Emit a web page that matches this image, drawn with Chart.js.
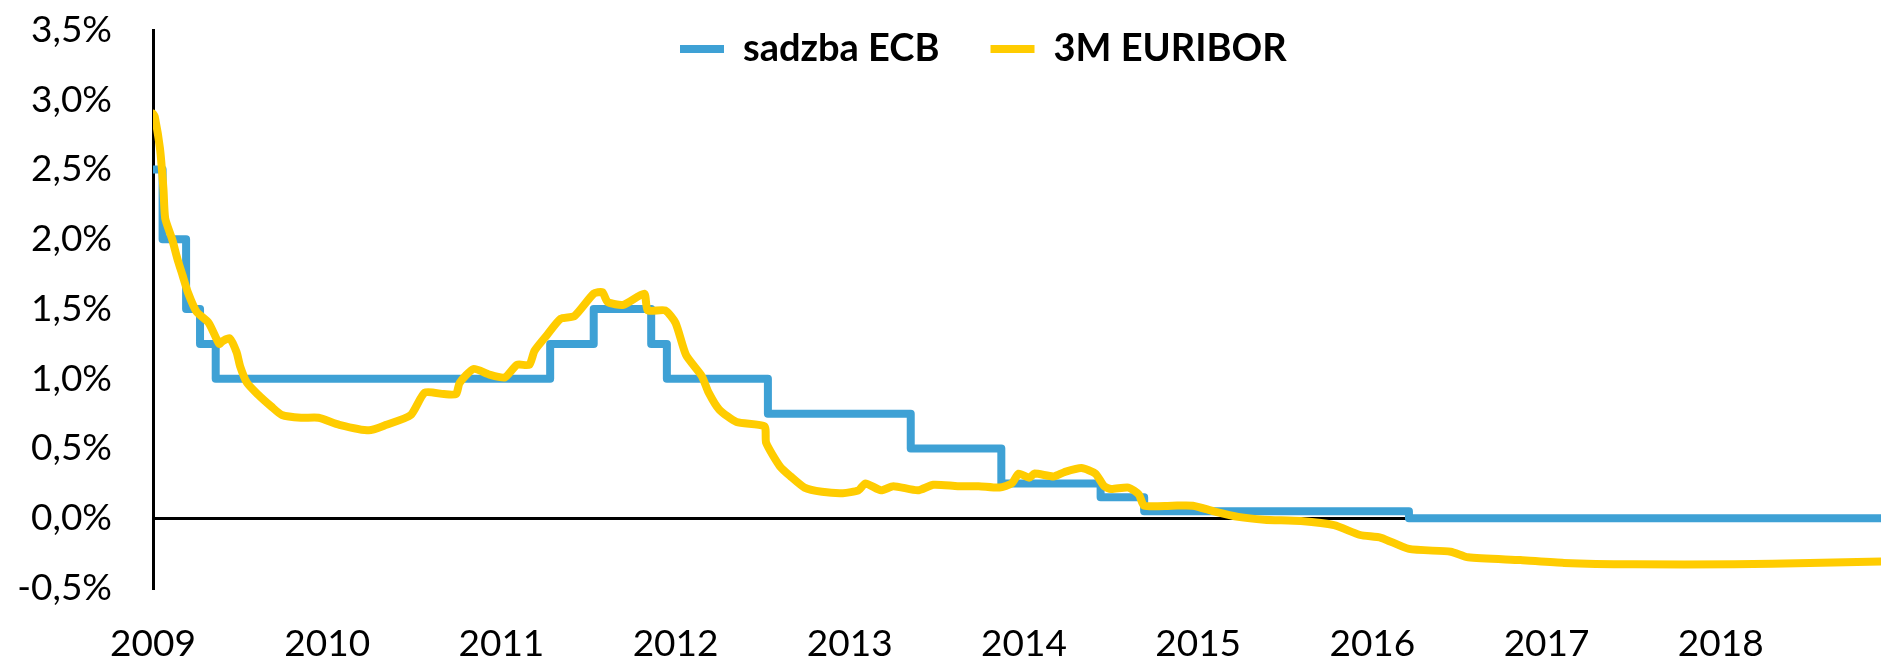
<!DOCTYPE html>
<html>
<head>
<meta charset="utf-8">
<title>sadzba ECB a 3M EURIBOR</title>
<script src="https://cdn.jsdelivr.net/npm/chart.js@4.4.1/dist/chart.umd.min.js"></script>
<style>
   html, body { margin: 0; padding: 0; background: #fff; }
   #wrap { position: relative; width: 1881px; height: 658px; }
</style>
</head>
<body>
<div id="wrap"><canvas id="chart-area"></canvas></div>
<script>
'use strict';

//DATA (dates as decimal years, values in %)
var seriesNames = ['sadzba ECB', '3M EURIBOR'];

var ecbDates = [2009.0, 2009.055, 2009.19, 2009.27, 2009.36, 2011.28, 2011.53, 2011.86, 2011.95,
   2012.53, 2013.35, 2013.87, 2014.44, 2014.69, 2016.21, 2018.92];
var ecbRates = [2.5, 2.0, 1.5, 1.25, 1.0, 1.25, 1.5, 1.25, 1.0,
   0.75, 0.5, 0.25, 0.15, 0.05, 0.0, 0.0];

var euriborDates = [2009.00, 2009.01, 2009.04, 2009.06, 2009.07, 2009.11, 2009.14, 2009.17, 2009.20,
   2009.25, 2009.32, 2009.38, 2009.40, 2009.44, 2009.48, 2009.50, 2009.54, 2009.60, 2009.68,
   2009.74, 2009.85, 2009.95, 2010.07, 2010.24, 2010.34, 2010.48, 2010.56, 2010.67, 2010.74,
   2010.76, 2010.84, 2010.93, 2011.02, 2011.09, 2011.16, 2011.19, 2011.26, 2011.34, 2011.42,
   2011.53, 2011.58, 2011.61, 2011.70, 2011.82, 2011.84, 2011.94, 2012.00, 2012.06, 2012.15,
   2012.19, 2012.25, 2012.35, 2012.51, 2012.52, 2012.60, 2012.66, 2012.74, 2012.84, 2012.96,
   2013.05, 2013.09, 2013.18, 2013.25, 2013.39, 2013.48, 2013.62, 2013.74, 2013.86, 2013.93,
   2013.97, 2014.03, 2014.06, 2014.17, 2014.23, 2014.33, 2014.41, 2014.46, 2014.50, 2014.60,
   2014.66, 2014.69, 2014.85, 2014.97, 2015.09, 2015.23, 2015.38, 2015.59, 2015.78, 2015.93,
   2016.05, 2016.21, 2016.45, 2016.55, 2016.85, 2017.10, 2017.50, 2018.08, 2018.51, 2018.92];
var euriborRates = [2.90, 2.88, 2.65, 2.36, 2.15, 2.00, 1.86, 1.74, 1.62,
   1.48, 1.40, 1.25, 1.27, 1.29, 1.19, 1.09, 0.97, 0.89, 0.80,
   0.74, 0.72, 0.72, 0.67, 0.63, 0.67, 0.74, 0.90, 0.89, 0.89,
   0.97, 1.07, 1.03, 1.01, 1.10, 1.10, 1.20, 1.31, 1.43, 1.45,
   1.61, 1.62, 1.55, 1.53, 1.61, 1.49, 1.49, 1.40, 1.17, 1.02,
   0.90, 0.78, 0.69, 0.66, 0.54, 0.37, 0.30, 0.22, 0.19, 0.18,
   0.20, 0.25, 0.20, 0.23, 0.20, 0.24, 0.23, 0.23, 0.22, 0.25,
   0.32, 0.29, 0.32, 0.30, 0.33, 0.36, 0.32, 0.23, 0.21, 0.22,
   0.17, 0.09, 0.09, 0.09, 0.05, 0.01, -0.01, -0.02, -0.05, -0.12,
   -0.14, -0.22, -0.24, -0.28, -0.30, -0.32, -0.33, -0.33, -0.32, -0.31];

var yearLabels = [2009, 2010, 2011, 2012, 2013, 2014, 2015, 2016, 2017, 2018];
var xStart = 2009, xEnd = 2018.92;
var yMin = -0.5, yMax = 3.5, yStep = 0.5;

//HELPERS
function toPoints(xs, ys) {
   var out = [];
   for (var i = 0; i < xs.length; i++) {
      out.push({ x: xs[i], y: ys[i] });
   }
   return out;
}

// legend sits inside the plot, so it takes no layout room
var legendSpot = {
   id: 'legendSpot',
   beforeInit: function (chart) {
      if (!chart.legend) return;
      var fit = chart.legend.fit;
      chart.legend.fit = function () {
         fit.call(this);
         this.height = 0;
      };
   },
   afterLayout: function (chart) {
      var lg = chart.legend;
      lg.left = 629;
      lg.right = 1881;
      lg.top = -21;
      lg.bottom = 110;   // legend clips to its own box
   }
};

//CHART
Chart.defaults.font.family = 'Lato';
Chart.defaults.color = '#000';

var ctx = document.getElementById('chart-area');
var myChart = new Chart(ctx, {
   type: 'line',
   data: {
      datasets: [{
         label: seriesNames[0],
         data: toPoints(ecbDates, ecbRates),
         borderColor: '#3EA1D5',
         backgroundColor: '#3EA1D5',
         borderWidth: 8,
         stepped: true,
         pointRadius: 0,
         borderJoinStyle: 'round',
         borderCapStyle: 'round',
         order: 2
      }, {
         label: seriesNames[1],
         data: toPoints(euriborDates, euriborRates),
         borderColor: '#FFCC00',
         backgroundColor: '#FFCC00',
         borderWidth: 8,
         tension: 0.2,
         pointRadius: 0,
         borderJoinStyle: 'round',
         borderCapStyle: 'round',
         order: 1
      }]
   },
   options: {
      responsive: true,
      maintainAspectRatio: false,
      animation: false,
      layout: { padding: { top: 30, left: 0, right: 0, bottom: 0 } },
      plugins: {
         tooltip: { enabled: false },
         legend: {
            position: 'top',
            align: 'start',
            labels: {
               usePointStyle: true,
               pointStyle: 'line',
               pointStyleWidth: 44,
               padding: 51,
               color: '#000',
               font: { size: 38, weight: 'bold' },
               sort: function (a, b) { return a.datasetIndex - b.datasetIndex; }
            }
         }
      },
      scales: {
         x: {
            type: 'linear',
            min: xStart,
            max: xEnd,
            grid: { display: false, drawTicks: false },
            border: { display: false },
            ticks: {
               stepSize: 1,
               includeBounds: false,
               autoSkip: false,
               maxRotation: 0,
               padding: 34,
               font: { size: 37 },
               callback: function (v) {
                  return yearLabels.indexOf(v) >= 0 ? String(v) : '';
               }
            },
            afterFit: function (scale) { scale.height = 70; }
         },
         y: {
            min: yMin,
            max: yMax,
            grid: {
               drawTicks: false,
               lineWidth: 3,
               color: function (c) { return c.tick && c.tick.value === 0 ? '#000' : 'rgba(0,0,0,0)'; }
            },
            border: { display: true, color: '#000', width: 3 },
            ticks: {
               stepSize: yStep,
               padding: 41,
               font: { size: 37 },
               callback: function (v) {
                  return v.toFixed(1).replace('.', ',') + '%';
               }
            },
            afterFit: function (scale) {
               scale.width = 153;
               scale.paddingTop = 0;
               scale.paddingBottom = 0;
            }
         }
      }
   },
   plugins: [legendSpot]
});
</script>
</body>
</html>
